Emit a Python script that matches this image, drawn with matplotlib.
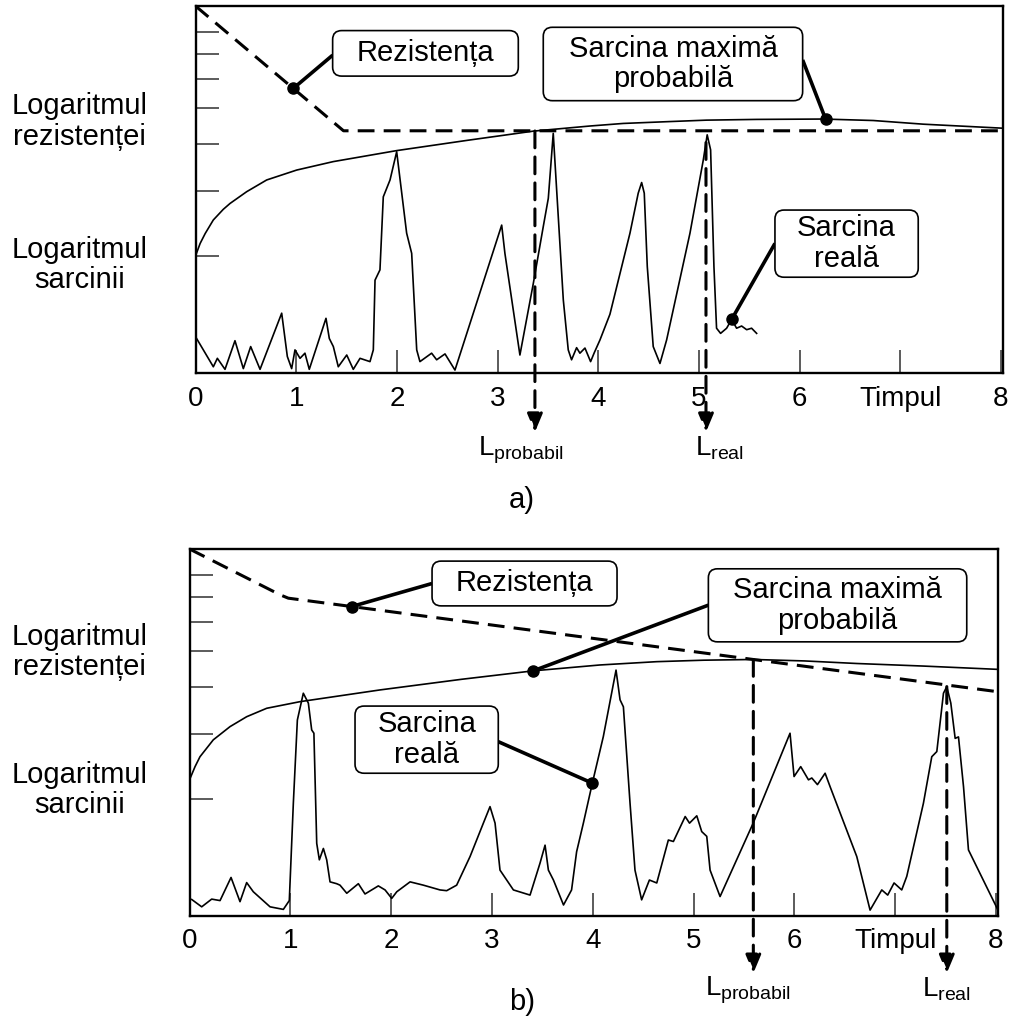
import numpy as np
import matplotlib.pyplot as plt
from matplotlib.patches import FancyBboxPatch

plt.rcParams['font.family'] = ['Liberation Sans', 'DejaVu Sans']
plt.rcParams['mathtext.fontset'] = 'custom'
plt.rcParams['mathtext.rm'] = 'Liberation Sans'

# x = time units, y = fraction of the (logarithmic) vertical axis
time_ticks = [0, 1, 2, 3, 4, 5, 6, 7, 8]
time_labels = ['0', '1', '2', '3', '4', '5', '6', 'Timpul', '8']
log_tick_values = [2, 3, 4, 5, 6, 7, 8]

# ---- panel a) ----
res_a_t = [0.0, 1.47, 8.02]
res_a_v = [1.0, 0.66, 0.66]

maxload_a_t = [0.0, 0.046, 0.096, 0.177, 0.276, 0.343, 0.508, 0.707, 1.005, 1.368,
               1.998, 2.7, 3.354, 3.917, 4.248, 4.7, 5.076, 5.573, 6.234, 6.731,
               7.228, 8.02]
maxload_a_v = [0.319, 0.353, 0.380, 0.417, 0.446, 0.462, 0.494, 0.526, 0.553, 0.576,
               0.606, 0.634, 0.659, 0.673, 0.680, 0.685, 0.689, 0.691, 0.692, 0.688,
               0.678, 0.667]

load_a_t = [0.0, 0.177, 0.217, 0.293, 0.392, 0.475, 0.548, 0.641, 0.856, 0.912,
            0.955, 0.988, 1.038, 1.087, 1.130, 1.296, 1.329, 1.369, 1.418, 1.502,
            1.567, 1.634, 1.733, 1.766, 1.783, 1.832, 1.865, 1.932, 1.998, 2.097,
            2.147, 2.197, 2.229, 2.345, 2.395, 2.478, 2.577, 3.041, 3.073, 3.222,
            3.355, 3.454, 3.504, 3.553, 3.593, 3.653, 3.702, 3.735, 3.785, 3.818,
            3.868, 3.924, 3.96, 4.017, 4.116, 4.315, 4.397, 4.431, 4.457, 4.487,
            4.546, 4.613, 4.679, 4.911, 5.043, 5.082, 5.116, 5.149, 5.175, 5.215,
            5.275, 5.325, 5.374, 5.424, 5.474, 5.523, 5.573]
load_a_v = [0.099, 0.017, 0.040, 0.010, 0.088, 0.012, 0.072, 0.010, 0.163, 0.045,
            0.012, 0.063, 0.040, 0.054, 0.010, 0.149, 0.094, 0.072, 0.017, 0.049,
            0.010, 0.040, 0.031, 0.063, 0.253, 0.281, 0.480, 0.526, 0.603, 0.381,
            0.326, 0.063, 0.031, 0.054, 0.036, 0.052, 0.008, 0.403, 0.326, 0.049,
            0.244, 0.399, 0.476, 0.653, 0.471, 0.199, 0.063, 0.036, 0.069, 0.054,
            0.068, 0.031, 0.055, 0.090, 0.160, 0.381, 0.490, 0.519, 0.490, 0.290,
            0.072, 0.026, 0.090, 0.381, 0.580, 0.649, 0.608, 0.290, 0.122, 0.108,
            0.122, 0.146, 0.122, 0.128, 0.118, 0.122, 0.108]

life_a_probable = 3.371
life_a_real = 5.07

# ---- panel b) ----
res_b_t = [0.0, 0.9, 0.98, 8.02]
res_b_v = [1.0, 0.875, 0.866, 0.611]

maxload_b_t = [0.0, 0.055, 0.104, 0.236, 0.402, 0.567, 0.766, 1.096, 1.89, 2.7,
               3.41, 4.072, 4.635, 5.1, 5.593, 6.1, 6.619, 7.28, 8.02]
maxload_b_v = [0.371, 0.407, 0.434, 0.480, 0.516, 0.543, 0.566, 0.584, 0.616, 0.645,
               0.668, 0.684, 0.693, 0.697, 0.699, 0.695, 0.688, 0.681, 0.672]

load_b_t = [0.022, 0.121, 0.220, 0.303, 0.412, 0.501, 0.567, 0.633, 0.799, 0.931,
            0.990, 1.03, 1.07, 1.129, 1.179, 1.212, 1.234, 1.262, 1.288, 1.328,
            1.361, 1.394, 1.46, 1.493, 1.56, 1.675, 1.741, 1.873, 1.94, 2.006,
            2.056, 2.188, 2.32, 2.485, 2.551, 2.65, 2.783, 2.915, 2.981, 3.031,
            3.08, 3.213, 3.378, 3.477, 3.527, 3.56, 3.61, 3.71, 3.79, 3.84,
            3.907, 3.996, 4.105, 4.231, 4.271, 4.304, 4.37, 4.419, 4.485, 4.562,
            4.635, 4.75, 4.8, 4.917, 4.96, 5.032, 5.081, 5.131, 5.164, 5.263,
            5.593, 5.957, 5.997, 6.063, 6.14, 6.173, 6.229, 6.305, 6.355, 6.619,
            6.751, 6.867, 6.926, 6.989, 7.065, 7.115, 7.28, 7.363, 7.413, 7.479,
            7.512, 7.552, 7.595, 7.628, 7.678, 7.727, 8.02]
load_b_v = [0.045, 0.025, 0.046, 0.042, 0.105, 0.039, 0.091, 0.066, 0.025, 0.018,
            0.042, 0.307, 0.534, 0.607, 0.580, 0.507, 0.498, 0.198, 0.153, 0.184,
            0.153, 0.093, 0.088, 0.084, 0.062, 0.088, 0.060, 0.082, 0.071, 0.048,
            0.066, 0.093, 0.084, 0.071, 0.069, 0.084, 0.162, 0.253, 0.298, 0.253,
            0.125, 0.071, 0.057, 0.144, 0.193, 0.125, 0.098, 0.030, 0.071, 0.175,
            0.253, 0.362, 0.489, 0.670, 0.589, 0.570, 0.307, 0.125, 0.044, 0.098,
            0.090, 0.207, 0.203, 0.271, 0.253, 0.273, 0.230, 0.217, 0.125, 0.053,
            0.254, 0.498, 0.380, 0.407, 0.371, 0.376, 0.358, 0.389, 0.352, 0.162,
            0.016, 0.071, 0.057, 0.090, 0.071, 0.108, 0.307, 0.434, 0.448, 0.607,
            0.625, 0.580, 0.484, 0.488, 0.352, 0.180, 0.016]

life_b_probable = 5.593
life_b_real = 7.512

DASH = (0, (5.5, 3))
FS = 21


def setup_axes(ax):
    ax.set_xlim(0, 8.02)
    ax.set_ylim(0, 1)
    ax.set_xticks(time_ticks)
    ax.set_xticklabels(time_labels, fontsize=20)
    # log axis ticks: axis spans roughly 10^-0.014 .. 10^0.974
    ax.set_yticks((np.log10(log_tick_values) + 0.014) / 0.988)
    ax.tick_params(axis='both', direction='in', length=16.5, width=1.2,
                   color='#404040', pad=9, labelleft=False)
    for sp in ax.spines.values():
        sp.set_linewidth(1.7)


def label_box(ax, x0, x1, y0, y1, text):
    box = FancyBboxPatch((x0, y0), x1 - x0, y1 - y0,
                         boxstyle='round,pad=0,rounding_size=0.09',
                         mutation_aspect=0.272, fc='white', ec='black',
                         lw=1.2, zorder=5)
    ax.add_patch(box)
    ax.text((x0 + x1) / 2, (y0 + y1) / 2, text, ha='center', va='center',
            fontsize=FS, linespacing=1.12, zorder=6)


def callout(ax, box_pt, t, curve_t, curve_v):
    v = np.interp(t, curve_t, curve_v)
    ax.plot([box_pt[0], t], [box_pt[1], v], color='black', lw=2.6, zorder=4,
            solid_capstyle='butt')
    ax.plot([t], [v], 'o', color='black', ms=8, zorder=7)


def life_arrow(ax, t, curve_t, curve_v, tip, label, label_t, label_top):
    v = np.interp(t, curve_t, curve_v)
    ax.annotate('', xy=(t, tip), xycoords=('data', 'axes fraction'),
                xytext=(t, v), textcoords='data', annotation_clip=False,
                arrowprops=dict(arrowstyle='-|>,head_length=0.55,head_width=0.23',
                                mutation_scale=20, lw=2.2, linestyle=DASH,
                                color='black', shrinkA=0, shrinkB=0), zorder=8)
    ax.text(label_t, label_top, label, transform=ax.get_xaxis_transform(),
            ha='center', va='top', fontsize=20, clip_on=False)


fig = plt.figure(figsize=(10.09, 10.16), dpi=100)
ax_a = fig.add_axes([0.19376, 0.63287, 0.80030, 0.36122])
ax_b = fig.add_axes([0.18781, 0.09843, 0.80129, 0.36122])

# ---------- panel a ----------
setup_axes(ax_a)
ax_a.plot(res_a_t, res_a_v, color='black', lw=2.2, linestyle=DASH, zorder=3)
ax_a.plot(maxload_a_t, maxload_a_v, color='black', lw=1.2, zorder=3)
ax_a.plot(load_a_t, load_a_v, color='black', lw=1.2, zorder=3)

label_box(ax_a, 1.362, 3.206, 0.809, 0.933, 'Rezistența')
label_box(ax_a, 3.454, 6.030, 0.742, 0.942, 'Sarcina maximă\nprobabilă')
label_box(ax_a, 5.755, 7.178, 0.261, 0.444, 'Sarcina\nreală')
callout(ax_a, (1.362, 0.866), 0.971, res_a_t, res_a_v)
callout(ax_a, (6.030, 0.853), 6.258, maxload_a_t, maxload_a_v)
callout(ax_a, (5.755, 0.353), 5.325, load_a_t, load_a_v)

life_arrow(ax_a, life_a_probable, maxload_a_t, maxload_a_v, -0.161,
           r'L$_{\mathrm{probabil}}$', 3.232, -0.168)
life_arrow(ax_a, life_a_real, load_a_t, load_a_v, -0.161,
           r'L$_{\mathrm{real}}$', 5.199, -0.168)

# ---------- panel b ----------
setup_axes(ax_b)
ax_b.plot(res_b_t, res_b_v, color='black', lw=2.2, linestyle=DASH, zorder=3)
ax_b.plot(maxload_b_t, maxload_b_v, color='black', lw=1.2, zorder=3)
ax_b.plot(load_b_t, load_b_v, color='black', lw=1.2, zorder=3)

label_box(ax_b, 2.406, 4.241, 0.845, 0.967, 'Rezistența')
label_box(ax_b, 5.147, 7.710, 0.747, 0.946, 'Sarcina maximă\nprobabilă')
label_box(ax_b, 1.642, 3.063, 0.389, 0.572, 'Sarcina\nreală')
callout(ax_b, (2.406, 0.906), 1.609, res_b_t, res_b_v)
callout(ax_b, (5.147, 0.847), 3.41, maxload_b_t, maxload_b_v)
callout(ax_b, (3.063, 0.475), 3.996, load_b_t, load_b_v)

life_arrow(ax_b, life_b_probable, maxload_b_t, maxload_b_v, -0.156,
           r'L$_{\mathrm{probabil}}$', 5.536, -0.160)
life_arrow(ax_b, life_b_real, load_b_t, load_b_v, -0.156,
           r'L$_{\mathrm{real}}$', 7.505, -0.160)

# left axis captions (baselines in pixels from the top)
for text, base in [('Logaritmul', 114), ('rezistenței', 145),
                   ('Logaritmul', 258), ('sarcinii', 288),
                   ('Logaritmul', 645), ('rezistenței', 675),
                   ('Logaritmul', 783), ('sarcinii', 813)]:
    fig.text(79.5 / 1009, 1 - base / 1016, text, ha='center', va='baseline',
             fontsize=FS)

fig.text(522 / 1009, 1 - 500 / 1016, 'a)', ha='center', va='center', fontsize=FS)
fig.text(522 / 1009, 1 - 1002 / 1016, 'b)', ha='center', va='center', fontsize=FS)

fig.savefig('out.png', dpi=100)
